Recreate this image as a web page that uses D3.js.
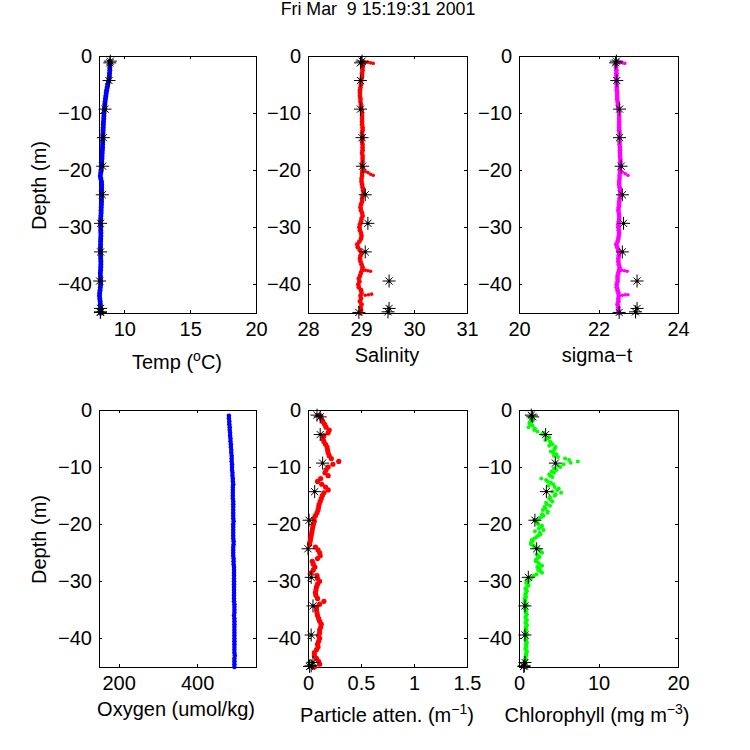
<!DOCTYPE html>
<html>
<head>
<meta charset="utf-8">
<script src="https://cdn.jsdelivr.net/npm/d3@7"></script>
<style>
  html, body { margin: 0; padding: 0; background: #fff; }
  text { font-family: "Liberation Sans", Arial, sans-serif; fill: #000; }
</style>
</head>
<body>
<div id="chart"></div>
<script>
const title = "Fri Mar  9 15:19:31 2001";

const depth = [
  1, 1.5, 2, 2.5, 3, 3.5, 4, 4.5, 5,
  5.5, 6, 6.5, 7, 7.5, 8, 8.5, 9, 9.5,
  10, 10.5, 11, 11.5, 12, 12.5, 13, 13.5, 14,
  14.5, 15, 15.5, 16, 16.5, 17, 17.5, 18, 18.5,
  19, 19.5, 20, 20.5, 21, 21.5, 22, 22.5, 23,
  23.5, 24, 24.5, 25, 25.5, 26, 26.5, 27, 27.5,
  28, 28.5, 29, 29.5, 30, 30.5, 31, 31.5, 32,
  32.5, 33, 33.5, 34, 34.5, 35, 35.5, 36, 36.5,
  37, 37.5, 38, 38.5, 39, 39.5, 40, 40.5, 41,
  41.5, 42, 42.5, 43, 43.5, 44, 44.5, 45
];

const temp = [
  8.92, 8.92, 8.90, 8.90, 8.88, 8.87, 8.84, 8.80, 8.74,
  8.70, 8.66, 8.63, 8.60, 8.57, 8.54, 8.52, 8.50, 8.48,
  8.46, 8.45, 8.44, 8.42, 8.41, 8.40, 8.39, 8.38, 8.38,
  8.37, 8.36, 8.35, 8.35, 8.33, 8.32, 8.31, 8.30, 8.29,
  8.28, 8.26, 8.24, 8.21, 8.18, 8.22, 8.27, 8.28, 8.28,
  8.28, 8.28, 8.28, 8.27, 8.27, 8.26, 8.25, 8.24, 8.24,
  8.22, 8.21, 8.20, 8.20, 8.21, 8.21, 8.22, 8.22, 8.21,
  8.20, 8.20, 8.19, 8.19, 8.20, 8.21, 8.21, 8.22, 8.22,
  8.21, 8.20, 8.18, 8.19, 8.20, 8.21, 8.20, 8.18, 8.16,
  8.13, 8.12, 8.14, 8.17, 8.18, 8.19, 8.20, 8.20
];

const salinity = [
  29.03, 29.04, 29.03, 29.03, 29.02, 29.02, 29.01, 29.00, 29.00,
  28.99, 28.98, 28.98, 28.98, 28.99, 28.99, 29.00, 29.00, 29.01,
  29.02, 29.02, 29.02, 29.02, 29.02, 29.03, 29.03, 29.02, 29.03,
  29.03, 29.02, 29.03, 29.03, 29.03, 29.02, 29.03, 29.03, 29.03,
  29.02, 29.03, 29.03, 29.02, 29.02, 29.01, 29.01, 29.02, 29.03,
  29.04, 29.05, 29.03, 29.02, 29.02, 29.00, 28.99, 29.00, 29.02,
  29.03, 29.01, 29.00, 28.98, 28.97, 28.98, 29.00, 29.01, 29.00,
  28.97, 28.93, 28.94, 28.98, 29.01, 28.99, 28.98, 28.99, 29.01,
  29.03, 29.02, 29.00, 28.98, 28.96, 28.97, 28.95, 28.96, 29.00,
  29.01, 28.99, 29.00, 28.98, 29.01, 28.99, 29.00, 28.99
];
const salinitySpurDepth = [1.1, 1.1, 1.2, 1.3, 20.2, 20.4, 20.7, 20.9, 37.5, 37.6, 37.7, 41.9, 41.8, 41.7];
const salinitySpur = [29.08, 29.13, 29.18, 29.23, 29.08, 29.13, 29.18, 29.23, 29.08, 29.13, 29.18, 29.08, 29.14, 29.2];

const sigma = [
  22.45, 22.44, 22.44, 22.45, 22.45, 22.45, 22.45, 22.45, 22.46,
  22.46, 22.46, 22.47, 22.47, 22.47, 22.48, 22.49, 22.50, 22.51,
  22.52, 22.52, 22.52, 22.52, 22.52, 22.52, 22.52, 22.53, 22.53,
  22.53, 22.53, 22.53, 22.54, 22.54, 22.54, 22.54, 22.55, 22.55,
  22.55, 22.55, 22.54, 22.54, 22.53, 22.53, 22.52, 22.52, 22.53,
  22.54, 22.55, 22.54, 22.53, 22.52, 22.52, 22.51, 22.50, 22.51,
  22.52, 22.52, 22.51, 22.50, 22.50, 22.51, 22.52, 22.51, 22.50,
  22.48, 22.45, 22.47, 22.50, 22.52, 22.51, 22.50, 22.50, 22.51,
  22.53, 22.52, 22.50, 22.48, 22.48, 22.48, 22.46, 22.46, 22.48,
  22.50, 22.51, 22.50, 22.50, 22.48, 22.50, 22.50, 22.51
];
const sigmaSpurDepth = [1.1, 1.2, 1.3, 20.3, 20.6, 20.9, 37.5, 37.6, 37.7, 41.9, 41.8, 41.8];
const sigmaSpur = [22.54, 22.6, 22.66, 22.6, 22.67, 22.74, 22.58, 22.65, 22.72, 22.6, 22.67, 22.74];

const oxygen = [
  481, 481, 482, 482, 483, 483, 484, 484, 485,
  485, 486, 486, 487, 487, 488, 488, 488, 489,
  489, 489, 490, 490, 491, 491, 492, 491, 491,
  491, 491, 491, 492, 492, 492, 492, 492, 492,
  492, 493, 492, 492, 492, 492, 492, 492, 493,
  493, 492, 492, 492, 492, 493, 493, 493, 494,
  494, 494, 494, 494, 494, 494, 494, 494, 494,
  494, 494, 494, 495, 495, 495, 495, 494, 495,
  495, 495, 495, 495, 495, 495, 495, 495, 495,
  495, 495, 495, 496, 495, 495, 495, 495
];

const atten = [
  .115, .126, .14, .157, .17, .2, .19, .15, .14,
  .15, .165, .18, .185, .19, .2, .22, .29, .235,
  .19, .17, .16, .19, .12, .09, .13, .165, .19,
  .15, .135, .125, .115, .105, .1, .095, .085, .07,
  .055, .06, .05, .045, .04, .035, .03, .025, .02,
  .015, .07, .095, .11, .115, .09, .04, .05, .065,
  .05, .03, .085, .09, .11, .09, .08, .075, .07,
  .075, .09, .15, .11, .08, .08, .085, .09, .1,
  .11, .125, .12, .11, .11, .1, .11, .1, .09,
  .095, .08, .06, .06, .08, .1, .11, .06
];

const chl = [
  1.6, 1.7, 1.5, 1.4, 1.2, 1.9, 3.1, 3.3, 3.6,
  3.9, 4.2, 4.6, 4.4, 4.3, 4.4, 5.8, 7.4, 5.6,
  5.2, 4.7, 4.4, 3.9, 2.8, 3.6, 4.3, 4.5, 4.8,
  5.3, 4.5, 3.8, 4.2, 3.5, 3.2, 3.0, 3.6, 3.1,
  2.5, 2.2, 2.4, 2.8, 3.1, 2.6, 2.4, 1.9, 1.7,
  1.5, 2.0, 2.6, 2.9, 2.4, 2.3, 2.1, 2.6, 2.3,
  2.4, 2.9, 1.9, 1.5, 1.2, 1.1, 1.0, .9, .9,
  .8, .7, .75, .9, .8, .9, .85, .9, .85,
  .9, .95, .85, .9, .8, .9, .95, .9, .85,
  .9, .85, .95, .9, .8, .75, .7, .7
];
// second scan, quarter metre below the first
const chlDepth2 = [
  1.25, 1.75, 2.25, 2.75, 3.25, 3.75, 4.25, 4.75, 5.25,
  5.75, 6.25, 6.75, 7.25, 7.75, 8.25, 8.75, 9.25, 9.75,
  10.25, 10.75, 11.25, 11.75, 12.25, 12.75, 13.25, 13.75, 14.25,
  14.75, 15.25, 15.75, 16.25, 16.75, 17.25, 17.75, 18.25, 18.75,
  19.25, 19.75, 20.25, 20.75, 21.25, 21.75, 22.25, 22.75, 23.25,
  23.75, 24.25, 24.75, 25.25, 25.75, 26.25, 26.75, 27.25, 27.75,
  28.25, 28.75, 29.25, 29.75, 30.25, 30.75, 31.25, 31.75, 32.25,
  32.75, 33.25, 33.75, 34.25, 34.75, 35.25, 35.75, 36.25, 36.75,
  37.25, 37.75, 38.25, 38.75, 39.25, 39.75, 40.25, 40.75, 41.25,
  41.75, 42.25, 42.75, 43.25, 43.75, 44.25, 44.75
];
const chl2 = [
  1.4, 1.8, 1.3, 1.7, 2.0, 2.3, 2.9, 3.8, 3.3,
  4.0, 3.8, 4.5, 4.0, 4.7, 4.9, 6.3, 6.5, 4.9,
  4.4, 4.1, 3.8, 4.2, 3.4, 4.0, 3.7, 5.0, 4.2,
  4.6, 3.9, 4.0, 3.4, 3.9, 3.3, 3.6, 2.9, 2.8,
  1.9, 2.3, 2.9, 2.5, 2.0, 2.7, 2.2, 1.6, 1.5,
  1.8, 2.4, 2.7, 2.2, 2.6, 2.1, 2.4, 2.9, 2.6,
  2.7, 2.2, 1.6, 1.0, .9, 1.2, .8, 1.0, .8,
  .9, .8, .7, 1.0, .7, .85, 1.0, .8, 1.0,
  .8, 1.0, .9, .8, 1.0, .85, .8, 1.0, .95,
  .8, 1.0, .85, .8, .9, .7, .6
];

// bottle samples, the black stars
const bottleDepth = [0.9, 1.2, 4.3, 9.3, 14.3, 19.3, 24.3, 29.3, 34.3, 39.4, 44.2, 44.8, 44.9];
const bottleTemp = [8.94, 8.9, 8.84, 8.54, 8.41, 8.36, 8.33, 8.2, 8.2, 8.13, 8.2, 8.2, 8.18];
const bottleSalinity = [29.02, 28.99, 28.99, 28.99, 29.02, 29.03, 29.08, 29.13, 29.08, 29.53, 29.53, 29.51, 28.96];
const bottleSigma = [22.45, 22.43, 22.46, 22.53, 22.53, 22.57, 22.6, 22.63, 22.6, 22.97, 22.97, 22.93, 22.52];
const bottleAtten = [.085, .115, .115, .138, .063, .01, 0, .03, .047, .03, .047, .03, .015];
const bottleChl = [1.55, 1.72, 3.35, 4.57, 3.44, 2.0, 2.22, 1.17, .75, .75, .75, .67, .6];

const depthTicks = [0, -10, -20, -30, -40];

const width = 750;
const height = 750;
const svg = d3.select("#chart").append("svg")
  .attr("width", width)
  .attr("height", height)
  .style("display", "block");

svg.append("text")
  .attr("x", 378)
  .attr("y", 15)
  .attr("text-anchor", "middle")
  .attr("font-size", 17.8)
  .style("white-space", "pre")
  .text(title);

const cols = [[99, 256], [308, 467], [519, 678]];
const rows = [[56, 313], [410, 667]];

// 8 armed star, like the matlab * marker
function star(r) {
  const s = r * 0.55;
  return `M${-r},0L${r},0M0,${-r}L0,${r}M${-s},${-s}L${s},${s}M${-s},${s}L${s},${-s}`;
}

function panel(opts) {
  const [x0, x1] = cols[opts.col];
  const [y0, y1] = rows[opts.row];
  const x = d3.scaleLinear().domain(opts.xlim).range([x0, x1]);
  const y = d3.scaleLinear().domain([-45, 0]).range([y1, y0]);
  const g = svg.append("g");

  const bottom = d3.axisBottom(x).tickValues(opts.xticks).tickSize(-3).tickPadding(9)
    .tickFormat(d => String(d));
  const top = d3.axisTop(x).tickValues(opts.xticks).tickSize(-3).tickFormat("");
  const left = d3.axisLeft(y).tickValues(depthTicks).tickSize(-3).tickPadding(7)
    .tickFormat(d => d === 0 ? "0" : "\u2212" + Math.abs(d));
  const right = d3.axisRight(y).tickValues(depthTicks).tickSize(-3).tickFormat("");

  [
    [bottom, `translate(0,${y1})`], [top, `translate(0,${y0})`],
    [left, `translate(${x0},0)`], [right, `translate(${x1},0)`]
  ].forEach(([axis, tr]) => {
    const a = g.append("g").attr("transform", tr).call(axis);
    a.selectAll("path").attr("stroke", "#000").attr("stroke-width", 1).attr("shape-rendering", "crispEdges");
    a.selectAll("line").attr("stroke", "#000").attr("stroke-width", 1).attr("shape-rendering", "crispEdges");
    a.selectAll("text").attr("font-size", 20).attr("font-family", "Liberation Sans").attr("fill", "#000");
  });

  opts.series.forEach(s => {
    g.append("g").selectAll("circle")
      .data(s.values.map((v, i) => ({ v: v, d: s.depth[i] })))
      .enter().append("circle")
      .attr("cx", d => x(d.v))
      .attr("cy", d => y(-d.d))
      .attr("r", s.r || opts.r)
      .attr("fill", opts.color);
  });

  if (opts.bottle) {
    const stars = g.append("g").selectAll("g")
      .data(opts.bottle.map((v, i) => ({ v: v, d: bottleDepth[i] })))
      .enter().append("g")
      .attr("transform", d => `translate(${x(d.v)},${y(-d.d)})`);
    stars.append("path")
      .attr("d", star(6.5))
      .attr("stroke", "#000")
      .attr("stroke-width", 1)
      .attr("fill", "none");
    stars.append("circle").attr("r", 1.6).attr("fill", "#000");
  }

  const label = g.append("text")
    .attr("x", opts.labelX)
    .attr("y", opts.labelY)
    .attr("text-anchor", "middle")
    .attr("font-size", 20);
  label.append("tspan").text(opts.label[0]);
  if (opts.label.length > 1) {
    label.append("tspan").attr("dy", -8).attr("font-size", 14).text(opts.label[1]);
    label.append("tspan").attr("dy", 8).text(opts.label[2]);
  }

  if (opts.col === 0) {
    g.append("text")
      .attr("transform", `translate(46,${(y0 + y1) / 2 + 1}) rotate(-90)`)
      .attr("text-anchor", "middle")
      .attr("font-size", 20)
      .text("Depth (m)");
  }
}

panel({
  col: 0, row: 0, xlim: [8.08, 20], xticks: [10, 15, 20], color: "#0000ff", r: 2.5,
  series: [{ depth: depth, values: temp }], bottle: bottleTemp,
  label: ["Temp (", "o", "C)"], labelX: 177, labelY: 369
});
panel({
  col: 1, row: 0, xlim: [28, 31], xticks: [28, 29, 30, 31], color: "#ff0000", r: 2.4,
  series: [{ depth: depth, values: salinity }, { depth: salinitySpurDepth, values: salinitySpur, r: 1.8 }],
  bottle: bottleSalinity,
  label: ["Salinity"], labelX: 387, labelY: 362
});
panel({
  col: 2, row: 0, xlim: [20, 24], xticks: [20, 22, 24], color: "#ff00ff", r: 2.4,
  series: [{ depth: depth, values: sigma }, { depth: sigmaSpurDepth, values: sigmaSpur, r: 1.8 }],
  bottle: bottleSigma,
  label: ["sigma\u2212t"], labelX: 597, labelY: 362
});
panel({
  col: 0, row: 1, xlim: [150, 550], xticks: [200, 400], color: "#0000ff", r: 2.3,
  series: [{ depth: depth, values: oxygen }],
  label: ["Oxygen (umol/kg)"], labelX: 176, labelY: 716
});
panel({
  col: 1, row: 1, xlim: [0, 1.5], xticks: [0, 0.5, 1, 1.5], color: "#ff0000", r: 2.6,
  series: [{ depth: depth, values: atten }], bottle: bottleAtten,
  label: ["Particle atten. (m", "\u22121", ")"], labelX: 387, labelY: 722
});
panel({
  col: 2, row: 1, xlim: [0, 20], xticks: [0, 10, 20], color: "#00ff00", r: 2,
  series: [{ depth: depth, values: chl }, { depth: chlDepth2, values: chl2 }], bottle: bottleChl,
  label: ["Chlorophyll (mg m", "\u22123", ")"], labelX: 597, labelY: 722
});
</script>
</body>
</html>
